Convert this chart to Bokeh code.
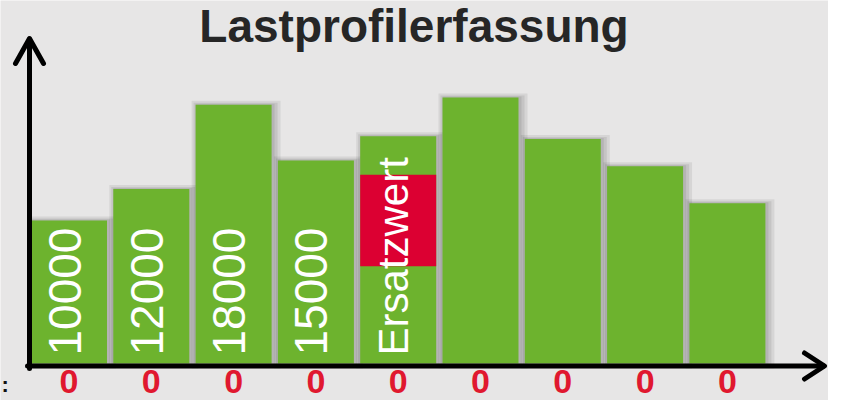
import numpy as np
from bokeh.plotting import figure
from bokeh.models import Range1d, ColumnDataSource
from bokeh.core.properties import value
from bokeh.embed import file_html
from bokeh.resources import INLINE

# ---------------- data ----------------
title_text = "Lastprofilerfassung"
slots = list(range(9))
load_values = [10000, 12200, 18100, 14200, 15900, 18600, 15700, 13800, 11200]
bar_labels = ["10000", "12000", "18000", "15000", "Ersatzwert", "", "", "", ""]
bar_label_sizes = ["46px", "46px", "46px", "46px", "42px", "46px", "46px", "46px", "46px"]
bottom_labels = ["0", "0", "0", "0", "0", "0", "0", "0", "0"]
row_marker = ":"
ersatz_slot = 4
ersatz_low = 6800
ersatz_high = 13200

# ---------------- layout ----------------
W, H = 828, 400
X0_PX = 68.5            # screen x of slot 0 centre
PX_PER_SLOT = 82.3
BASE_PX = 363           # screen y of value 0
PX_PER_UNIT = 0.0143

BG = "#e7e6e6"
GREEN = "#6db32e"
RED = "#dc0032"
ZERO_RED = "#e0182f"
FONT = "Liberation Sans"

def px2x(px):
    return (px - X0_PX) / PX_PER_SLOT

def px2y(py):
    return (BASE_PX - py) / PX_PER_UNIT

dx = 1 / PX_PER_SLOT
dy = 1 / PX_PER_UNIT
bw = 76 / PX_PER_SLOT

p = figure(width=W, height=H,
           x_range=Range1d(px2x(0), px2x(W)),
           y_range=Range1d(px2y(H), px2y(0)),
           output_backend="svg", toolbar_location=None,
           x_axis_location=None, y_axis_location=None,
           min_border=0, background_fill_color=BG, border_fill_color=BG,
           outline_line_color=None)
p.grid.visible = False

xs = np.array(slots, dtype=float)
vals = np.array(load_values, dtype=float)

# soft shadows
p.quad(left=xs - bw / 2 - 4 * dx, right=xs + bw / 2 + 9 * dx,
       top=vals + 4 * dy, bottom=-5 * dy,
       fill_color="black", fill_alpha=0.07, line_color=None)
p.quad(left=xs - bw / 2 - 2 * dx, right=xs + bw / 2 + 6 * dx,
       top=vals + 2 * dy, bottom=-3 * dy,
       fill_color="black", fill_alpha=0.08, line_color=None)
p.quad(left=xs - bw / 2, right=xs + bw / 2 + 3 * dx,
       top=vals + 1 * dy, bottom=-2 * dy,
       fill_color="black", fill_alpha=0.08, line_color=None)

# bars
p.vbar(x=slots, top=load_values, bottom=0, width=bw,
       fill_color=GREEN, line_color=None)

# replacement value block
p.quad(left=[ersatz_slot - bw / 2], right=[ersatz_slot + bw / 2],
       bottom=[ersatz_low], top=[ersatz_high],
       fill_color=RED, line_color=None)

# vertical bar labels
lab_src = ColumnDataSource(dict(x=xs - 4.5 * dx, y=[8 * dy] * len(slots),
                                t=bar_labels, fs=bar_label_sizes))
p.text(x="x", y="y", text="t", source=lab_src, angle=np.pi / 2,
       text_align="left", text_baseline="middle",
       text_font=value(FONT), text_font_size="fs", text_color="white")

# bottom red zeros
p.text(x=slots, y=[px2y(381)] * len(slots), text=bottom_labels,
       text_align="center", text_baseline="middle",
       text_font=value(FONT), text_font_style="bold",
       text_font_size="34px", text_color=ZERO_RED)

# row marker at the left edge
p.text(x=[px2x(1)], y=[px2y(384)], text=[row_marker],
       text_align="left", text_baseline="middle",
       text_font=value(FONT), text_font_style="bold",
       text_font_size="22px", text_color="#111111")

# title
p.text(x=[px2x(413.5)], y=[px2y(25)], text=[title_text],
       text_align="center", text_baseline="middle",
       text_font=value(FONT), text_font_style="bold",
       text_font_size="46px", text_color="#262626")

# axes with arrow heads
axis_kw = dict(line_color="black", line_width=5, line_cap="round", line_join="round")
p.line(x=[px2x(29), px2x(29)], y=[px2y(368), px2y(39)], **axis_kw)
p.line(x=[px2x(15), px2x(29), px2x(43)], y=[px2y(63), px2y(38), px2y(63)], **axis_kw)
p.line(x=[px2x(27), px2x(823)], y=[px2y(365.5), px2y(365.5)], **axis_kw)
p.line(x=[px2x(804), px2x(824), px2x(804)], y=[px2y(352.5), px2y(365.5), px2y(378.5)], **axis_kw)

open("out.html", "w").write(file_html(p, INLINE))
